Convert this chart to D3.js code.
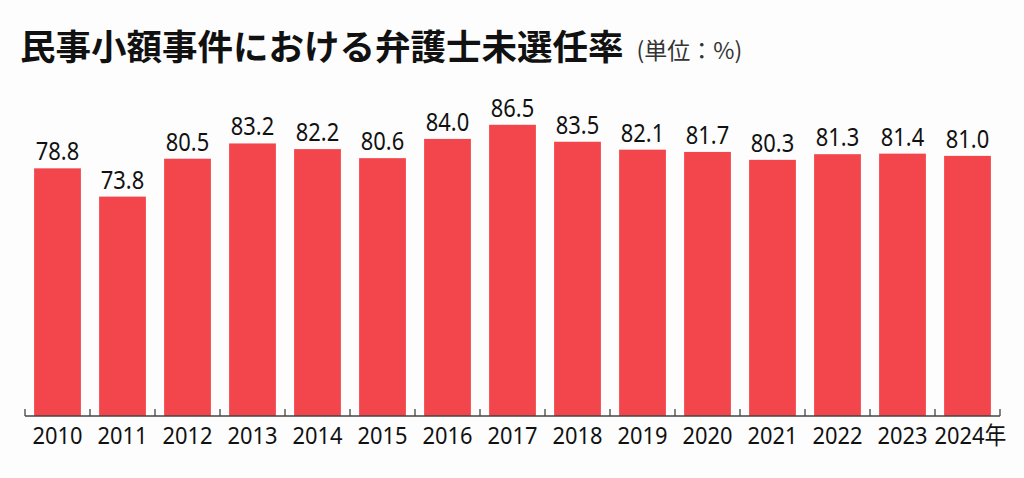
<!DOCTYPE html>
<html>
<head>
<meta charset="utf-8">
<script src="https://cdn.jsdelivr.net/npm/d3@7"></script>
<style>
  body { margin: 0; background: #fdfdfd; }
  svg { display: block; }
</style>
</head>
<body>
<div id="chart"></div>
<script>
let years = ["2010", "2011", "2012", "2013", "2014", "2015", "2016", "2017", "2018", "2019", "2020", "2021", "2022", "2023", "2024"];
let yearLabels = ["2010", "2011", "2012", "2013", "2014", "2015", "2016", "2017", "2018", "2019", "2020", "2021", "2022", "2023", "2024年"];
let rates = [78.8, 73.8, 80.5, 83.2, 82.2, 80.6, 84.0, 86.5, 83.5, 82.1, 81.7, 80.3, 81.3, 81.4, 81.0];
let title = "民事小額事件における弁護士未選任率";
let unit = "(単位：%)";

function drawChart() {
    var width = 1024, height = 478;

    var svg = d3.select("#chart")
      .append("svg")
      .attr("width", width)
      .attr("height", height);

    // title + unit
    var t = svg.append("text")
      .attr("x", 20)
      .attr("y", 60)
      .attr("font-family", "'Noto Sans CJK JP', sans-serif")
      .attr("fill", "#111");
    t.append("tspan")
      .attr("font-size", 35.5)
      .attr("font-weight", 700)
      .text(title);
    t.append("tspan")
      .attr("dx", 13)
      .attr("dy", -1)
      .attr("font-size", 23)
      .attr("fill", "#333")
      .text(unit);

    var x = d3.scaleBand()
      .domain(years)
      .range([25, 1000])
      .paddingInner(0.28)
      .paddingOuter(0.14);

    // not zero based, the picture starts around 35
    var y = d3.scaleLinear()
      .domain([35, 90])
      .range([416, 105]);

    svg.append("g")
      .selectAll("rect")
      .data(rates)
      .join("rect")
      .attr("x", (d, i) => x(years[i]))
      .attr("y", d => y(d))
      .attr("width", x.bandwidth())
      .attr("height", d => y(35) - y(d))
      .attr("fill", "#f3464c");

    // value labels, the font in the picture is a bit condensed
    svg.append("g")
      .selectAll("text")
      .data(rates)
      .join("text")
      .attr("transform", (d, i) => "translate(" + (x(years[i]) + x.bandwidth() / 2) + "," + (y(d) - 8) + ") scale(0.86,1)")
      .attr("text-anchor", "middle")
      .attr("font-family", "'Noto Sans', sans-serif")
      .attr("font-size", 25.5)
      .attr("fill", "#111")
      .text(d => d.toFixed(1));

    // axis line with small upward ticks at band edges
    var step = x.step();
    var edges = d3.range(years.length + 1).map(i => 25 + i * step);
    var axis = svg.append("g").attr("stroke", "#444").attr("stroke-width", 1.3);
    axis.append("line")
      .attr("x1", 25).attr("x2", 1000)
      .attr("y1", 416).attr("y2", 416);
    axis.selectAll("line.tick")
      .data(edges)
      .join("line")
      .attr("class", "tick")
      .attr("x1", d => d).attr("x2", d => d)
      .attr("y1", 416).attr("y2", 409);

    svg.append("g")
      .selectAll("text")
      .data(yearLabels)
      .join("text")
      .attr("transform", (d, i) => "translate(" + (x(years[i]) + x.bandwidth() / 2 + (i == years.length - 1 ? 3 : 0)) + ",444) scale(0.93,1)")
      .attr("text-anchor", "middle")
      .attr("font-family", "'Noto Sans', 'Noto Sans CJK JP', sans-serif")
      .attr("font-size", 23.5)
      .attr("fill", "#111")
      .text(d => d);
}

drawChart();
</script>
</body>
</html>
